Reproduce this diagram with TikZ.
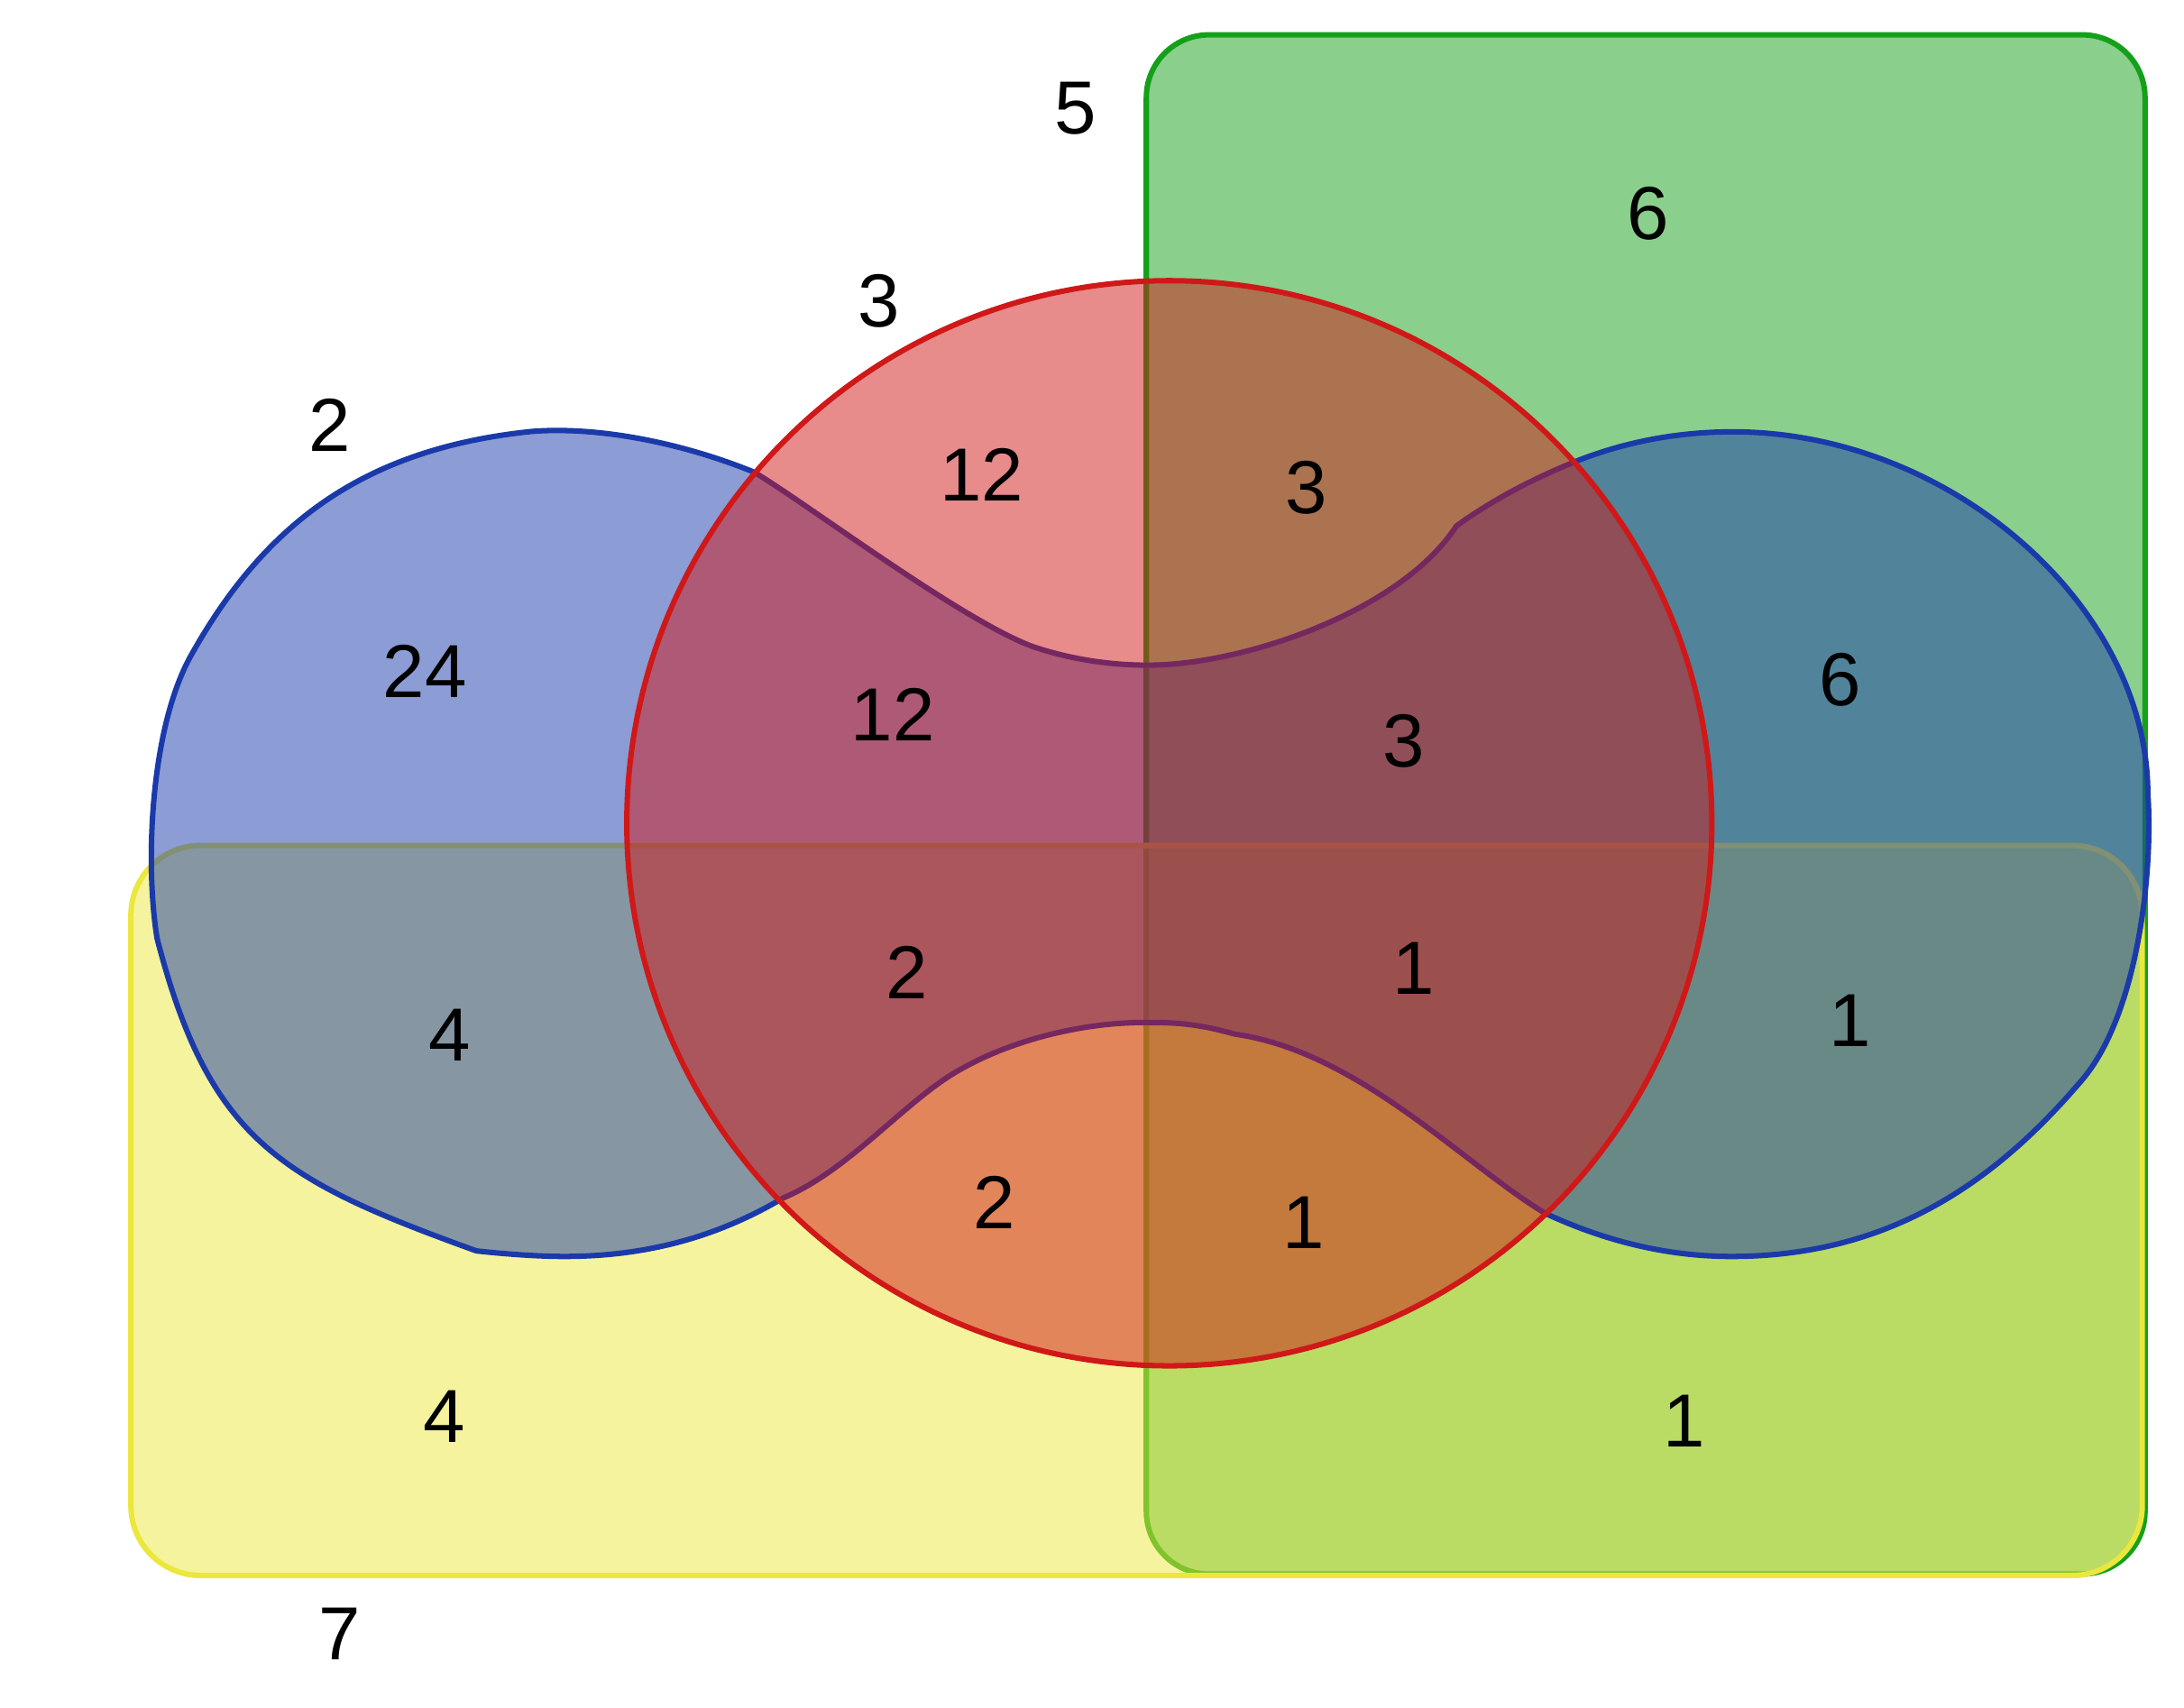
\documentclass[tikz,border=0pt]{standalone}
\usepackage{fontspec}
\setmainfont{Liberation Sans}
\definecolor{vgreen}{RGB}{21,160,25}
\definecolor{vyellow}{RGB}{235,231,61}
\definecolor{vblue}{RGB}{26,58,170}
\definecolor{vred}{RGB}{208,24,24}
\begin{document}
\begin{tikzpicture}[x=1pt,y=-1pt,
  setshape/.style={line width=3.9pt, fill opacity=0.5},
  num/.style={inner sep=0pt, font=\fontsize{54}{64}\selectfont}]
\useasboundingbox (0,0) rectangle (1568,1226);
% green set
\draw[setshape, draw=vgreen, fill=vgreen, rounded corners=45pt] (823,25) rectangle (1540,1130);
% yellow set
\draw[setshape, draw=vyellow, fill=vyellow, rounded corners=50pt] (94,607) rectangle (1538,1131);
% blue set
\draw[setshape, draw=vblue, fill=vblue]
  (541.5,339) .. controls (580,362) and (690,445) .. (741,464)
  .. controls (770,474) and (800,477.5) .. (823,477.5)
  .. controls (890,478) and (1005,440) .. (1045.6,377.6)
  .. controls (1070,360) and (1096,346) .. (1125.8,333.5)
  .. controls (1160,319) and (1200,310) .. (1244,310)
  .. controls (1400,310) and (1542,435) .. (1542,569.7)
  .. controls (1546,625) and (1535,730) .. (1493.4,776.9)
  .. controls (1435,845) and (1360,902) .. (1243,902)
  .. controls (1195,902) and (1150,890) .. (1109.1,870.9)
  .. controls (1050,835) and (975,755) .. (886.7,742.4)
  .. controls (860,735) and (845,734) .. (823,734)
  .. controls (770,734) and (720,750) .. (688.5,768.3)
  .. controls (650,790) and (610,840) .. (562.3,860)
  .. controls (520,885) and (470,902) .. (405,902)
  .. controls (385,902) and (360,900) .. (342,898)
  .. controls (201,847) and (150.5,819) .. (112.8,673.8)
  .. controls (104,620) and (108,525) .. (136,472.6)
  .. controls (190,375) and (262,322) .. (382,309.7)
  .. controls (430,306) and (490,318) .. (541.5,339)
  -- cycle;
% red set
\draw[setshape, draw=vred, fill=vred] (839.5,591) circle[radius=389.5];
% labels
\node[num] (n5)  at (772,78)   {5};
\node[num] (n6a) at (1183,153) {6};
\node[num] (n3a) at (631,216)  {3};
\node[num] (n2a) at (237,305)  {2};
\node[num] (n12a) at (705,341) {12};
\node[num] (n3b) at (938,350)  {3};
\node[num] (n24) at (305,482)  {24};
\node[num] (n12b) at (641,513) {12};
\node[num] (n3c) at (1008,532) {3};
\node[num] (n6b) at (1321,488) {6};
\node[num] (n2b) at (651,698)  {2};
\node[num] (n1a) at (1015,695) {1};
\node[num] (n1b) at (1328,733) {1};
\node[num] (n4a) at (323,743)  {4};
\node[num] (n2c) at (714,863)  {2};
\node[num] (n1c) at (936,878)  {1};
\node[num] (n4b) at (319,1017) {4};
\node[num] (n1d) at (1209,1020) {1};
\node[num] (n7)  at (244,1173) {7};
\end{tikzpicture}
\end{document}
